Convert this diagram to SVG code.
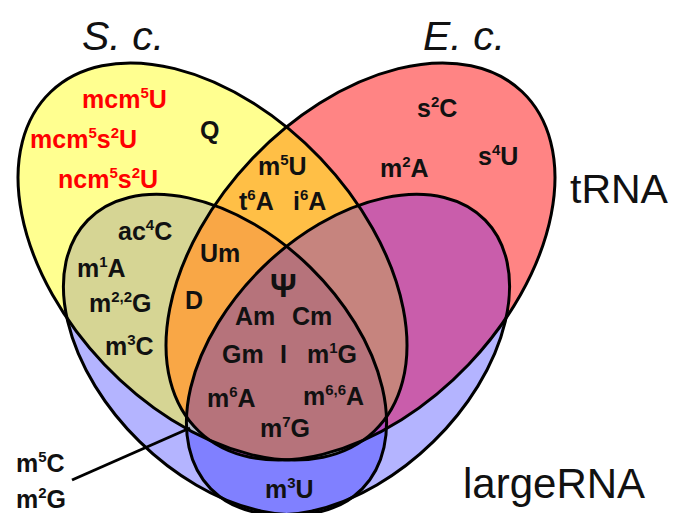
<svg xmlns="http://www.w3.org/2000/svg" xmlns:xlink="http://www.w3.org/1999/xlink" width="675" height="513" viewBox="0 0 675 513">
<style>
.lb{font-family:"Liberation Sans",Arial,sans-serif;font-weight:bold;font-size:25px;fill:#111}
.rd{fill:#f00}
.s{font-size:15px}
.big{font-family:"Liberation Sans",Arial,sans-serif;font-size:41px;fill:#111}
.it{font-style:italic}
.ol{fill:none;stroke:#000;stroke-width:3}
</style>
<defs>
<ellipse id="eY" cx="212.5" cy="261.5" rx="234.4" ry="149.3" transform="rotate(46.4 212.5 261.5)"/>
<ellipse id="eR" cx="360.5" cy="261.5" rx="234.4" ry="149.3" transform="rotate(-46.4 360.5 261.5)"/>
<ellipse id="eBL" cx="225" cy="354.5" rx="192" ry="122" transform="rotate(44.4 225 354.5)"/>
<ellipse id="eBR" cx="348" cy="354.5" rx="192" ry="122" transform="rotate(-44.4 348 354.5)"/>
<clipPath id="cY"><use xlink:href="#eY"/></clipPath>
<clipPath id="cR"><use xlink:href="#eR"/></clipPath>
<clipPath id="cBL"><use xlink:href="#eBL"/></clipPath>
</defs>
<rect width="675" height="513" fill="#fff"/>
<g id="fills">
<use xlink:href="#eY" fill="#FFFF90"/>
<use xlink:href="#eR" fill="#FF8484"/>
<use xlink:href="#eBL" fill="#B4B4FF"/>
<use xlink:href="#eBR" fill="#B4B4FF"/>
<g clip-path="url(#cY)"><use xlink:href="#eR" fill="#FFBF46"/></g>
<g clip-path="url(#cY)"><use xlink:href="#eBL" fill="#D6D594"/></g>
<g clip-path="url(#cR)"><use xlink:href="#eBR" fill="#C95DAB"/></g>
<g clip-path="url(#cBL)"><use xlink:href="#eBR" fill="#8080FF"/></g>
<g clip-path="url(#cY)"><use xlink:href="#eBR" fill="#B6BCCB"/></g>
<g clip-path="url(#cR)"><use xlink:href="#eBL" fill="#B24CBE"/></g>
<g clip-path="url(#cY)"><g clip-path="url(#cR)"><use xlink:href="#eBL" fill="#F9A746"/></g></g>
<g clip-path="url(#cY)"><g clip-path="url(#cR)"><use xlink:href="#eBR" fill="#C6847E"/></g></g>
<g clip-path="url(#cY)"><g clip-path="url(#cBL)"><use xlink:href="#eBR" fill="#B6BCCB"/></g></g>
<g clip-path="url(#cR)"><g clip-path="url(#cBL)"><use xlink:href="#eBR" fill="#B24CBE"/></g></g>
<g clip-path="url(#cY)"><g clip-path="url(#cR)"><g clip-path="url(#cBL)"><use xlink:href="#eBR" fill="#B6737B"/></g></g></g>
</g>
<g id="set-Sc-tRNA"><use xlink:href="#eY" class="ol"/></g>
<g id="set-Ec-tRNA"><use xlink:href="#eR" class="ol"/></g>
<g id="set-Sc-largeRNA"><use xlink:href="#eBL" class="ol"/></g>
<g id="set-Ec-largeRNA"><use xlink:href="#eBR" class="ol"/></g>
<g id="connectors"><line x1="72" y1="480" x2="190" y2="428" stroke="#000" stroke-width="3"/></g>
<g id="titles">
<text class="big it" x="82" y="50">S. c.</text>
<text class="big it" x="423" y="50">E. c.</text>
<text class="big" x="570" y="203">tRNA</text>
<text class="big" x="463" y="498" style="font-size:42px">largeRNA</text>
</g>
<g id="labels">
<text class="lb rd" x="82" y="108">mcm<tspan class="s" dy="-10">5</tspan><tspan dy="10">U</tspan></text>
<text class="lb rd" x="30" y="148">mcm<tspan class="s" dy="-10">5</tspan><tspan dy="10">s</tspan><tspan class="s" dy="-10">2</tspan><tspan dy="10">U</tspan></text>
<text class="lb rd" x="58" y="188">ncm<tspan class="s" dy="-10">5</tspan><tspan dy="10">s</tspan><tspan class="s" dy="-10">2</tspan><tspan dy="10">U</tspan></text>
<text class="lb" x="200" y="139">Q</text>
<text class="lb" x="417" y="117">s<tspan class="s" dy="-10">2</tspan><tspan dy="10">C</tspan></text>
<text class="lb" x="380" y="177">m<tspan class="s" dy="-10">2</tspan><tspan dy="10">A</tspan></text>
<text class="lb" x="478" y="165">s<tspan class="s" dy="-10">4</tspan><tspan dy="10">U</tspan></text>
<text class="lb" x="258" y="175">m<tspan class="s" dy="-10">5</tspan><tspan dy="10">U</tspan></text>
<text class="lb" x="239" y="210">t<tspan class="s" dy="-10">6</tspan><tspan dy="10">A</tspan></text>
<text class="lb" x="293" y="210">i<tspan class="s" dy="-10">6</tspan><tspan dy="10">A</tspan></text>
<text class="lb" x="118" y="240">ac<tspan class="s" dy="-10">4</tspan><tspan dy="10">C</tspan></text>
<text class="lb" x="77" y="277">m<tspan class="s" dy="-10">1</tspan><tspan dy="10">A</tspan></text>
<text class="lb" x="89" y="312">m<tspan class="s" dy="-10">2,2</tspan><tspan dy="10">G</tspan></text>
<text class="lb" x="105" y="355">m<tspan class="s" dy="-10">3</tspan><tspan dy="10">C</tspan></text>
<text class="lb" x="200" y="262">Um</text>
<text class="lb" x="185" y="309">D</text>
<text class="lb" x="270" y="297" style="font-size:33px">Ψ</text>
<text class="lb" x="235" y="325">Am</text>
<text class="lb" x="292" y="325">Cm</text>
<text class="lb" x="222" y="363">Gm</text>
<text class="lb" x="280" y="363">I</text>
<text class="lb" x="307" y="363">m<tspan class="s" dy="-10">1</tspan><tspan dy="10">G</tspan></text>
<text class="lb" x="207" y="407">m<tspan class="s" dy="-10">6</tspan><tspan dy="10">A</tspan></text>
<text class="lb" x="303" y="405">m<tspan class="s" dy="-10">6,6</tspan><tspan dy="10">A</tspan></text>
<text class="lb" x="260" y="437">m<tspan class="s" dy="-10">7</tspan><tspan dy="10">G</tspan></text>
<text class="lb" x="265" y="498">m<tspan class="s" dy="-10">3</tspan><tspan dy="10">U</tspan></text>
<text class="lb" x="16" y="472">m<tspan class="s" dy="-10">5</tspan><tspan dy="10">C</tspan></text>
<text class="lb" x="16" y="508">m<tspan class="s" dy="-10">2</tspan><tspan dy="10">G</tspan></text>
</g>
</svg>
